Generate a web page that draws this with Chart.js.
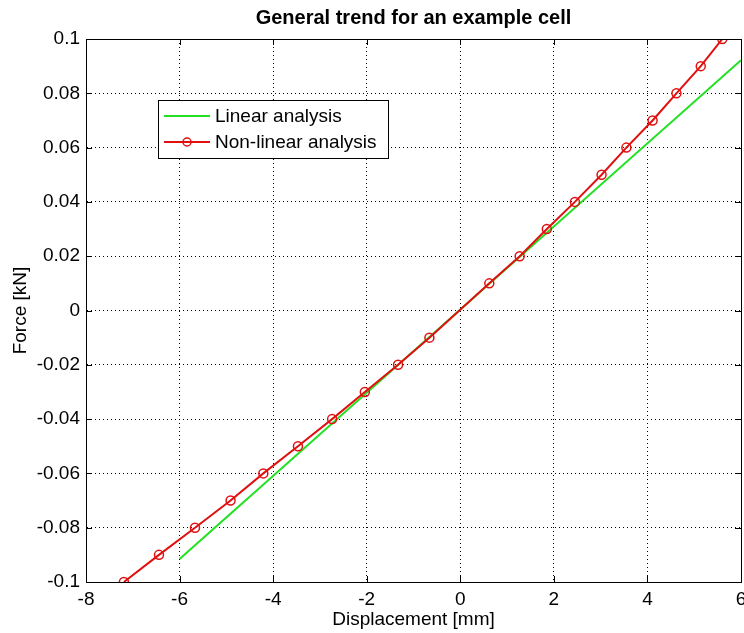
<!DOCTYPE html>
<html>
<head>
<meta charset="utf-8">
<script src="https://cdn.jsdelivr.net/npm/chart.js@4.4.1/dist/chart.umd.min.js"></script>
<style>
html, body { margin: 0; padding: 0; background: #fff; overflow: hidden; width: 744px; height: 633px; }
#wrap { width: 747px; height: 633px; position: relative; }
</style>
</head>
<body>
<div id="wrap"><canvas id="grafico"></canvas></div>
<script>
// --- DATOS ---
const titulo = 'General trend for an example cell';
const etiquetaX = 'Displacement [mm]';
const etiquetaY = 'Force [kN]';
const nombresSeries = ['Linear analysis', 'Non-linear analysis'];

const linealX = [-6, 6];
const linealY = [-0.0915, 0.0922];

const noLinealX = [-7.19, -6.44, -5.67, -4.91, -4.21, -3.47, -2.74, -2.04, -1.33, -0.66,
                   0.62, 1.27, 1.85, 2.45, 3.02, 3.55, 4.11, 4.62, 5.14, 5.60];
const noLinealY = [-0.1, -0.09, -0.08, -0.07, -0.06, -0.05, -0.04, -0.03, -0.02, -0.01,
                   0.01, 0.02, 0.03, 0.04, 0.05, 0.06, 0.07, 0.08, 0.09, 0.1];

const ticksX = [-8, -6, -4, -2, 0, 2, 4, 6];
const ticksY = [-0.1, -0.08, -0.06, -0.04, -0.02, 0, 0.02, 0.04, 0.06, 0.08, 0.1];

// --- ESTILO ---
const VERDE = '#22e022';
const ROJO = '#e01010';
const FUENTE = 'Arial, "Liberation Sans", sans-serif';

const puntos = (xs, ys) => xs.map((x, i) => ({ x: x, y: ys[i] }));
const fmt = v => String(Number(v.toFixed(2)));

// marco negro + ticks hacia dentro (estilo matlab) + leyenda
const marcoPlugin = {
    id: 'marco',
    afterDatasetsDraw(chart) {
        const c = chart.ctx;
        const a = chart.chartArea;
        const sx = chart.scales.x, sy = chart.scales.y;
        c.save();
        c.strokeStyle = '#000';
        c.lineWidth = 1;
        c.setLineDash([]);
        c.beginPath();
        ticksX.forEach(v => {
            const px = Math.round(sx.getPixelForValue(v)) + 0.5;
            c.moveTo(px, a.bottom); c.lineTo(px, a.bottom - 6);
            c.moveTo(px, a.top); c.lineTo(px, a.top + 6);
        });
        ticksY.forEach(v => {
            const py = Math.round(sy.getPixelForValue(v)) + 0.5;
            c.moveTo(a.left, py); c.lineTo(a.left + 6, py);
            c.moveTo(a.right, py); c.lineTo(a.right - 6, py);
        });
        c.stroke();
        c.strokeRect(Math.round(a.left) + 0.5, Math.round(a.top) + 0.5,
                     Math.round(a.right - a.left), Math.round(a.bottom - a.top));

        // leyenda
        const bx = 158, by = 100, bw = 230, bh = 58;
        c.fillStyle = '#fff';
        c.fillRect(bx, by, bw, bh);
        c.strokeRect(bx + 0.5, by + 0.5, bw, bh);
        c.font = '19px ' + FUENTE;
        c.textBaseline = 'middle';
        const filas = [116, 142];
        chart.data.datasets.forEach((ds, i) => {
            const y = filas[i];
            c.strokeStyle = ds.borderColor;
            c.lineWidth = 2;
            c.beginPath();
            c.moveTo(164, y); c.lineTo(210, y);
            c.stroke();
            if (ds.pointRadius > 0) {
                c.lineWidth = 1.5;
                c.beginPath();
                c.arc(187, y, 4, 0, Math.PI * 2);
                c.stroke();
            }
            c.fillStyle = '#000';
            c.fillText(ds.label, 215, y + 1);
        });
        c.restore();
    }
};

const ctx = document.getElementById('grafico').getContext('2d');
const grafico = new Chart(ctx, {
    type: 'scatter',
    data: {
        datasets: [{
            label: nombresSeries[0],
            data: puntos(linealX, linealY),
            showLine: true,
            borderColor: VERDE,
            backgroundColor: VERDE,
            borderWidth: 2,
            pointRadius: 0,
            order: 2
        }, {
            label: nombresSeries[1],
            data: puntos(noLinealX, noLinealY),
            showLine: true,
            borderColor: ROJO,
            backgroundColor: 'rgba(0,0,0,0)',
            borderWidth: 2,
            pointRadius: 4.5,
            pointBorderWidth: 1.5,
            pointBorderColor: ROJO,
            order: 1
        }]
    },
    options: {
        responsive: true,
        maintainAspectRatio: false,
        animation: false,
        plugins: {
            legend: { display: false },
            tooltip: { enabled: false },
            title: {
                display: true,
                text: titulo,
                fullSize: false,
                color: '#000',
                font: { family: FUENTE, size: 20, weight: 'bold' },
                padding: { top: 6, bottom: 9 }
            }
        },
        scales: {
            x: {
                type: 'linear',
                min: -8, max: 6,
                afterBuildTicks: s => { s.ticks = ticksX.map(v => ({ value: v })); },
                afterFit: s => { s.height = 51; s.paddingRight = 1; },
                ticks: { color: '#000', padding: 6, font: { family: FUENTE, size: 19 }, maxRotation: 0 },
                grid: { color: '#000', drawTicks: false, lineWidth: 1 },
                border: { color: '#000', dash: [1, 3] },
                title: {
                    display: true, text: etiquetaX, color: '#000',
                    font: { family: FUENTE, size: 19 }, padding: { top: 0, bottom: 2 }
                }
            },
            y: {
                type: 'linear',
                min: -0.1, max: 0.1,
                afterBuildTicks: s => { s.ticks = ticksY.map(v => ({ value: v })); },
                afterFit: s => { s.width = 86; },
                ticks: { color: '#000', padding: 6, font: { family: FUENTE, size: 19 }, callback: v => fmt(v) },
                grid: { color: '#000', drawTicks: false, lineWidth: 1 },
                border: { color: '#000', dash: [1, 3] },
                title: {
                    display: true, text: etiquetaY, color: '#000',
                    font: { family: FUENTE, size: 19 }, padding: { top: 9, bottom: 0 }
                }
            }
        }
    },
    plugins: [marcoPlugin]
});
</script>
</body>
</html>
